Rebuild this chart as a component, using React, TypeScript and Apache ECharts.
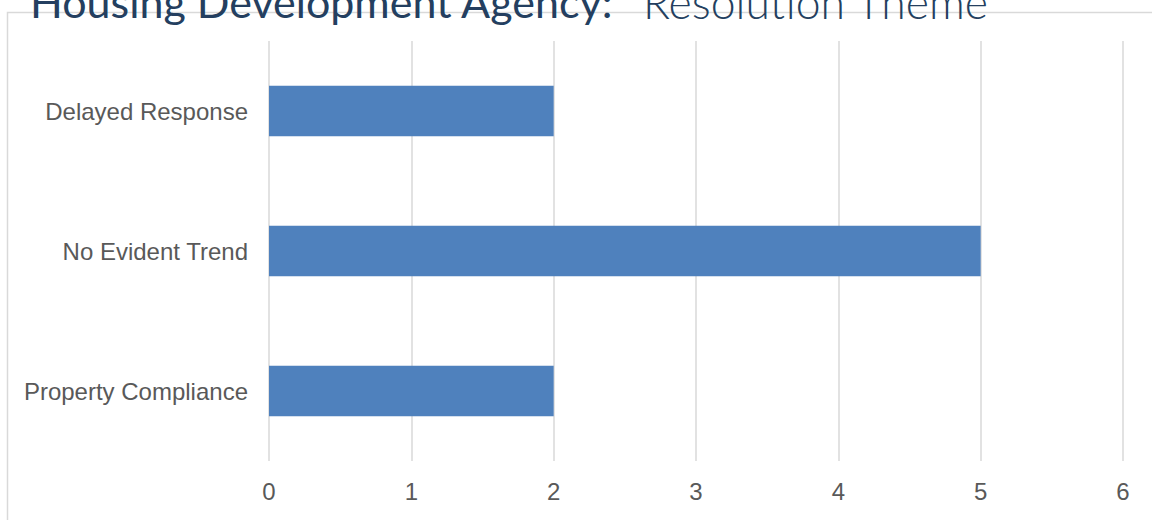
import React, { useEffect, useRef } from "react";
import * as echarts from "echarts";

const titleMain = "Housing Development Agency:";
const titleSub = "Resolution Theme";
const categories = ["Delayed Response", "No Evident Trend", "Property Compliance"];
const values = [2, 5, 2];
const axisMin = 0;
const axisMax = 6;
const axisInterval = 1;

export default function App() {
  const ref = useRef<HTMLDivElement>(null);
  useEffect(() => {
    if (!ref.current) return;
    const chart = echarts.init(ref.current, undefined, { renderer: "svg" });
    chart.setOption({
      animation: false,
      backgroundColor: "#ffffff",
      graphic: [
        {
          type: "rect",
          z: 0,
          shape: { x: 7.5, y: 12.5, width: 1200, height: 600 },
          style: { fill: "none", stroke: "#D9D9D9", lineWidth: 1.5 },
        },
        {
          type: "text",
          z: 10,
          x: 30,
          y: 1,
          style: {
            text: titleMain,
            fontFamily: "Lato",
            fontSize: 43,
            fontWeight: "normal",
            fill: "#243F60",
            verticalAlign: "middle",
            align: "left",
          },
        },
        {
          type: "text",
          z: 10,
          x: 643,
          y: 1,
          style: {
            text: titleSub,
            fontFamily: "Lato",
            fontSize: 44.5,
            fontWeight: 300,
            fill: "#243F60",
            verticalAlign: "middle",
            align: "left",
          },
        },
      ],
      grid: { left: 269, right: 29, top: 41, bottom: 59, containLabel: false },
      xAxis: {
        type: "value",
        min: axisMin,
        max: axisMax,
        interval: axisInterval,
        axisLine: { show: false },
        axisTick: { show: false },
        axisLabel: {
          color: "#595959",
          fontFamily: "Liberation Sans",
          fontSize: 24,
          margin: 18,
        },
        splitLine: { show: true, lineStyle: { color: "#D9D9D9", width: 1.5 } },
      },
      yAxis: {
        type: "category",
        inverse: true,
        data: categories,
        axisLine: { show: false },
        axisTick: { show: false },
        axisLabel: {
          color: "#595959",
          fontFamily: "Liberation Sans",
          fontSize: 24,
          margin: 21,
        },
        splitLine: { show: false },
      },
      series: [
        {
          type: "bar",
          data: values,
          barCategoryGap: "64%",
          itemStyle: { color: "#4F81BD" },
        },
      ],
    });
    return () => chart.dispose();
  }, []);
  return (
    <div
      ref={ref}
      style={{ position: "fixed", left: 0, top: 0, width: 1152, height: 520 }}
    />
  );
}
